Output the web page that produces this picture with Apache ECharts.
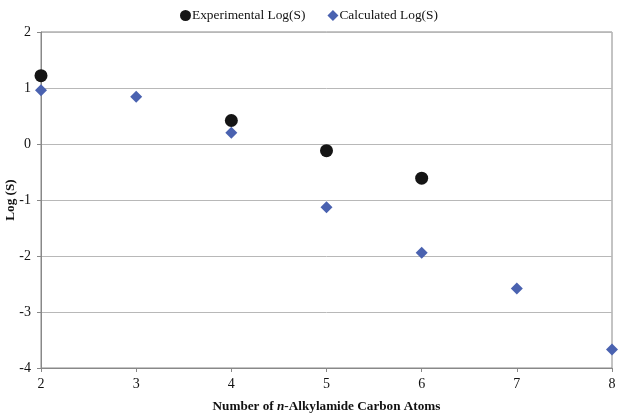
<!DOCTYPE html>
<html>
<head>
<meta charset="utf-8">
<script src="https://cdn.jsdelivr.net/npm/echarts@6/dist/echarts.min.js"></script>
<style>html,body{margin:0;padding:0;background:#fff}#c{width:624px;height:417px}</style>
</head>
<body>
<div id="c"></div>
<script>
const carbonAtoms = [2, 3, 4, 5, 6, 7, 8];
const experimentalX = [2, 4, 5, 6];
const experimentalLogS = [1.22, 0.42, -0.12, -0.61];
const calculatedX = [2, 3, 4, 5, 6, 7, 8];
const calculatedLogS = [0.96, 0.845, 0.2, -1.13, -1.94, -2.58, -3.67];
const seriesNames = ['Experimental Log(S)', 'Calculated Log(S)'];

const font = '"Liberation Serif", "Times New Roman", serif';
const chart = echarts.init(document.getElementById('c'));
chart.setOption({
  animation: false,
  textStyle: { fontFamily: font },
  legend: {
    top: 4, left: 175, itemGap: 22, itemWidth: 11, itemHeight: 11,
    textStyle: { fontFamily: font, fontSize: 13.4, color: '#111', padding: [0, 0, 0, -4] },
    data: [{ name: seriesNames[0], icon: 'circle' }, { name: seriesNames[1], icon: 'diamond' }]
  },
  grid: { left: 41, right: 12, top: 32, bottom: 49, containLabel: false, outerBoundsMode: 'none',
    show: true, borderColor: '#888', borderWidth: 1 },
  xAxis: {
    type: 'value', min: 2, max: 8, interval: 1,
    name: '{b|Number of }{i|n}{b|-Alkylamide Carbon Atoms}',
    nameLocation: 'middle', nameGap: 32, nameMoveOverlap: false,
    nameTextStyle: { rich: {
      b: { fontFamily: font, fontSize: 13.2, fontWeight: 'bold', color: '#111' },
      i: { fontFamily: font, fontSize: 13.2, fontWeight: 'bold', fontStyle: 'italic', color: '#111' }
    } },
    axisLine: { show: true, onZero: false, lineStyle: { color: '#888' } },
    axisTick: { show: true, length: 4, lineStyle: { color: '#888' } },
    axisLabel: { fontFamily: font, fontSize: 14, color: '#111', margin: 9 },
    splitLine: { show: false }
  },
  yAxis: {
    type: 'value', min: -4, max: 2, interval: 1,
    name: 'Log (S)', nameLocation: 'middle', nameGap: 24, nameMoveOverlap: false,
    nameTextStyle: { fontFamily: font, fontSize: 13.2, fontWeight: 'bold', color: '#111' },
    axisLine: { show: true, onZero: false, lineStyle: { color: '#888' } },
    axisTick: { show: true, length: 4, lineStyle: { color: '#888' } },
    axisLabel: { fontFamily: font, fontSize: 14, color: '#111', margin: 10 },
    splitLine: { show: true, lineStyle: { color: '#b8b8b8' } }
  },
  series: [
    { name: seriesNames[0], type: 'scatter', symbol: 'circle', symbolSize: 13,
      itemStyle: { color: '#151515', opacity: 1 },
      data: experimentalX.map((x, i) => [x, experimentalLogS[i]]) },
    { name: seriesNames[1], type: 'scatter', symbol: 'diamond', symbolSize: 12,
      itemStyle: { color: '#4a62b0', opacity: 1 },
      data: calculatedX.map((x, i) => [x, calculatedLogS[i]]) }
  ]
});
</script>
</body>
</html>
